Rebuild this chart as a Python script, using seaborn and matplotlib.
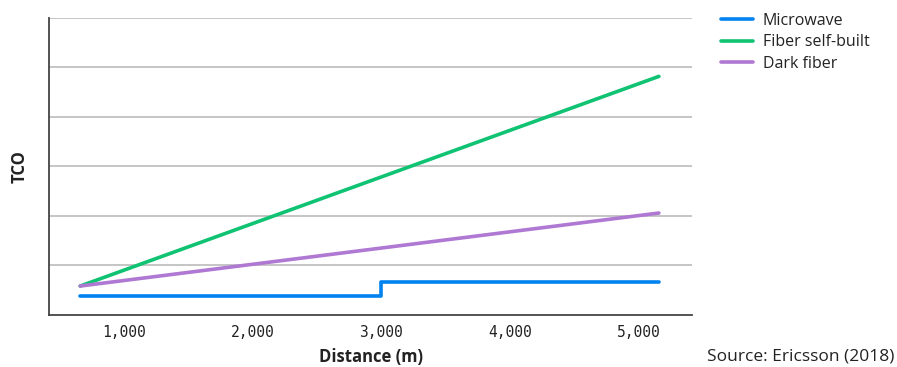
import pandas as pd
import matplotlib.pyplot as plt
import seaborn as sns

# values (TCO in grid units, no scale given)
series = ['Microwave', 'Fiber self-built', 'Dark fiber']
colors = ['#0082F0', '#0FC373', '#AF78D2']

mw_dist = [655, 3000, 5160]
mw_tco = [0.38, 0.66, 0.66]

fiber_dist = [655, 5160]
fiber_self_tco = [0.585, 4.82]
dark_fiber_tco = [0.585, 2.06]

x_ticks = [1000, 2000, 3000, 4000, 5000]
x_labels = ['1,000', '2,000', '3,000', '4,000', '5,000']

sns.set_style('white')
plt.rcParams['font.family'] = ['Open Sans', 'DejaVu Sans']

df_mw = pd.DataFrame({'dist': mw_dist, 'tco': mw_tco, 'kind': series[0]})
df_fib = pd.concat([
    pd.DataFrame({'dist': fiber_dist, 'tco': fiber_self_tco, 'kind': series[1]}),
    pd.DataFrame({'dist': fiber_dist, 'tco': dark_fiber_tco, 'kind': series[2]}),
])

fig = plt.figure(figsize=(8.97, 3.67), dpi=100)
ax = fig.add_axes([0.0546, 0.1417, 0.7169, 0.8093])

sns.lineplot(data=df_mw, x='dist', y='tco', color=colors[0], linewidth=2.6,
             drawstyle='steps-post', ax=ax, label=series[0])
sns.lineplot(data=df_fib, x='dist', y='tco', hue='kind', palette=colors[1:],
             linewidth=2.6, ax=ax)

ax.set_xlim(412, 5418)
ax.set_ylim(0, 6)
ax.set_yticks(range(1, 7))
ax.set_yticklabels([])
ax.grid(axis='y', color='#BBBBBB', linewidth=1.2)
ax.set_axisbelow(True)

ax.set_xticks(x_ticks)
ax.set_xticklabels(x_labels, family='DejaVu Sans Mono', fontsize=10.5, color='#222222')
ax.tick_params(axis='x', length=4, width=1, color='#444444', pad=3)
ax.tick_params(axis='y', length=0)

for s in ['top', 'right']:
    ax.spines[s].set_visible(False)
for s in ['left', 'bottom']:
    ax.spines[s].set_color('#444444')
    ax.spines[s].set_linewidth(1.3)

ax.set_xlabel('Distance (m)', fontsize=12, fontweight='bold', color='#222222', labelpad=6)
ax.set_ylabel('TCO', fontsize=12, fontweight='bold', color='#222222', labelpad=11)

handles, labels = ax.get_legend_handles_labels()
ax.legend_.remove()
fig.legend(handles, labels, loc='upper left', bbox_to_anchor=(0.788, 1.005),
           frameon=False, fontsize=11.5, handlelength=2.0, handletextpad=0.6,
           labelspacing=0.35, labelcolor='#222222')

fig.text(0.997, 0.006, 'Source: Ericsson (2018)', ha='right', va='bottom',
         fontsize=12.5, color='#222222')

fig.savefig('out.png', dpi=100)
